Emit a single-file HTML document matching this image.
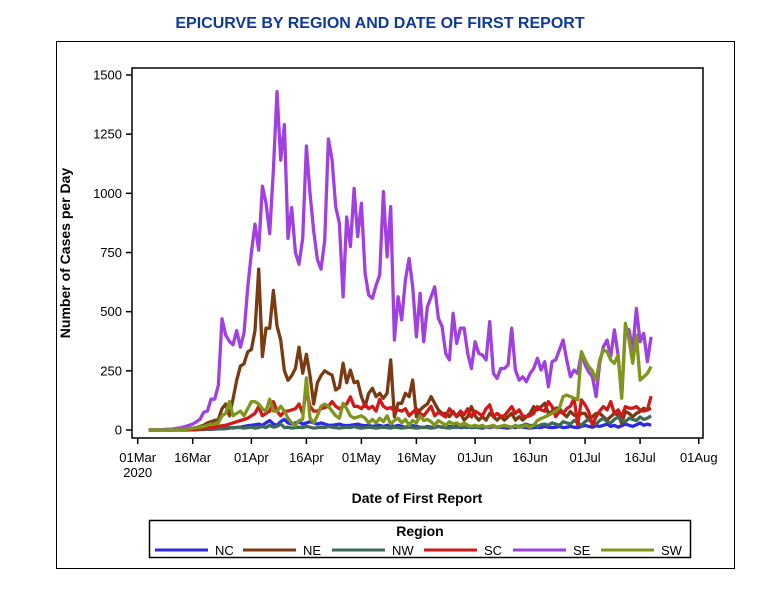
<!DOCTYPE html>
<html><head><meta charset="utf-8"><style>
body{margin:0;background:#fff;}
svg text{font-family:"Liberation Sans",Arial,sans-serif;}
</style></head><body>
<svg id="chart" width="761" height="603" xmlns="http://www.w3.org/2000/svg">
<rect x="0" y="0" width="761" height="603" fill="#fff"/>
<rect x="56.5" y="41.5" width="678" height="527" fill="#fff" stroke="#000" stroke-width="1"/>
<text x="380" y="28" text-anchor="middle" font-size="16" font-weight="bold" fill="#0f3a9a">EPICURVE BY REGION AND DATE OF FIRST REPORT</text>
<g id="plot"></g>
<rect x="132" y="68" width="571" height="370" fill="none" stroke="#000" stroke-width="1.5"/>
<text transform="translate(70,253) rotate(-90)" text-anchor="middle" font-size="14" font-weight="bold">Number of Cases per Day</text>
<text x="417" y="503" text-anchor="middle" font-size="14" font-weight="bold">Date of First Report</text>
<g>
<rect x="149.5" y="520.5" width="541" height="37" fill="#fff" stroke="#000" stroke-width="1.5"/>
<text x="420" y="536" text-anchor="middle" font-size="14" font-weight="bold">Region</text>
<g id="legend-items"></g>
</g>
</svg>
<script>
const startDay = 3;
const seriesNames = ["NC","NE","NW","SC","SE","SW"];
const seriesColors = ["#2a2ae8","#7a3a12","#3f6b56","#d01a1a","#a040e0","#7f961c"];
const yTicks = [0,250,500,750,1000,1250,1500];
const xTickLabels = ["01Mar","16Mar","01Apr","16Apr","01May","16May","01Jun","16Jun","01Jul","16Jul","01Aug"];
const xTickDays = [0,15,31,46,61,76,92,107,122,137,153];
const NC = [0,0,0,0,0,0,0,0,0,0,0,0,1,1,2,2,3,3,4,5,5,6,8,10,10,12,15,18,20,22,25,20,30,40,25,20,35,45,30,25,30,35,25,30,35,30,25,30,25,20,20,22,25,20,18,20,22,25,20,18,20,15,18,20,15,20,18,15,20,15,12,15,18,15,12,10,15,12,10,15,12,10,15,12,15,10,12,15,10,12,10,8,12,10,15,10,12,10,8,12,10,15,12,10,8,10,12,10,15,12,10,12,15,10,12,15,12,10,15,20,15,12,18,15,20,25,15,20,12,18,25,20,15,22,30,20,25,20];
const NE = [0,0,0,0,0,0,0,2,3,4,5,6,8,10,15,20,30,35,40,45,90,110,60,130,210,270,280,330,340,420,680,310,430,430,590,440,380,250,210,230,260,350,240,320,230,110,200,230,250,240,232,169,180,282,200,253,200,205,141,99,155,176,141,155,134,155,296,56,113,113,155,141,211,56,85,99,110,141,113,85,70,70,56,78,56,70,42,56,99,60,42,56,42,70,56,42,56,42,56,70,42,56,42,56,70,99,85,99,113,70,78,92,92,70,56,78,63,56,70,70,42,56,70,70,56,42,56,70,63,28,78,70,56,70,78,92,85,92];
const NW = [0,0,0,0,0,0,0,0,0,0,0,1,1,2,2,3,3,4,5,5,6,8,10,8,12,10,8,10,12,8,10,15,10,20,12,15,25,10,12,8,10,12,10,15,12,8,10,12,10,15,12,10,8,10,12,10,15,10,8,10,12,10,8,10,12,10,8,12,10,8,10,12,10,8,10,12,10,8,10,15,12,10,8,12,10,15,12,10,15,12,10,15,12,15,18,12,15,20,15,12,18,15,20,25,18,20,15,22,25,20,30,25,20,35,30,25,40,30,20,35,45,30,25,40,50,35,30,45,55,40,35,50,45,40,55,45,50,60];
const SC = [0,0,0,0,0,0,0,0,0,1,2,2,3,3,5,5,8,10,12,15,18,20,25,30,35,40,45,50,60,70,100,60,70,80,120,80,60,80,80,85,90,110,70,170,100,80,80,90,95,100,120,100,90,100,110,140,100,100,90,110,90,100,80,130,100,90,95,80,85,80,90,60,75,90,70,60,80,100,60,75,65,55,90,70,60,80,65,90,55,80,70,60,90,106,56,70,58,60,80,99,70,85,60,56,60,70,99,85,80,120,99,56,78,70,90,100,134,21,127,106,78,21,56,80,99,85,120,70,85,56,99,92,92,99,85,80,85,143];
const SE = [0,0,0,1,2,3,3,5,8,10,15,20,25,35,45,75,80,130,130,190,470,400,375,360,420,350,410,600,750,870,760,1030,960,830,1100,1430,1140,1290,810,940,750,700,810,1200,1000,840,720,680,800,1230,1140,944,873,563,900,775,1021,817,958,662,570,556,612,655,1007,732,944,380,563,465,634,725,605,394,577,373,521,563,605,472,437,324,296,493,366,430,430,324,260,373,324,317,296,458,239,218,260,260,275,430,253,211,225,204,239,260,303,253,289,183,289,296,338,380,296,225,253,239,324,275,246,225,141,282,352,380,310,423,317,141,430,423,338,514,373,408,289,394];
const SW = [0,0,0,0,0,0,0,0,0,2,3,5,8,10,12,15,20,25,25,30,60,70,120,60,70,80,60,90,120,120,110,90,80,130,80,80,100,80,50,30,20,40,45,220,50,30,60,100,110,100,80,60,50,113,90,60,50,55,60,50,30,45,30,50,35,60,25,40,50,30,45,20,40,30,60,40,45,35,20,40,30,20,35,25,30,20,30,20,15,20,15,20,10,15,20,10,15,20,15,10,20,10,15,20,10,20,40,49,55,63,70,80,92,141,148,141,134,127,331,296,268,250,211,296,338,331,296,282,317,134,451,380,282,401,211,225,239,268];
const seriesData = [NC,NE,NW,SC,SE,SW];

const NS = "http://www.w3.org/2000/svg";
const X0 = 137.7, PXD = 3.667, Y0 = 430, PXV = 355/1500;
function xScale(d){ return X0 + d*PXD; }
function yScale(v){ return Y0 - v*PXV; }
const plot = document.getElementById('plot');

yTicks.forEach(function(t){
  const y = yScale(t);
  const ln = document.createElementNS(NS,'line');
  ln.setAttribute('x1',126); ln.setAttribute('x2',132);
  ln.setAttribute('y1',y); ln.setAttribute('y2',y);
  ln.setAttribute('stroke','#000'); ln.setAttribute('stroke-width','1.5');
  
  
  plot.appendChild(ln);
  const tx = document.createElementNS(NS,'text');
  tx.setAttribute('x',122); tx.setAttribute('y',y+4.5);
  tx.setAttribute('text-anchor','end'); tx.setAttribute('font-size','13');
  tx.textContent = t;
  
  
  plot.appendChild(tx);
});
xTickDays.forEach(function(d,i){
  const x = xScale(d);
  const ln = document.createElementNS(NS,'line');
  ln.setAttribute('x1',x); ln.setAttribute('x2',x);
  ln.setAttribute('y1',438); ln.setAttribute('y2',444);
  ln.setAttribute('stroke','#000'); ln.setAttribute('stroke-width','1.5');
  
  
  plot.appendChild(ln);
  const tx = document.createElementNS(NS,'text');
  tx.setAttribute('x',x); tx.setAttribute('y',462);
  tx.setAttribute('text-anchor','middle'); tx.setAttribute('font-size','13');
  tx.textContent = xTickLabels[i];
  
  
  plot.appendChild(tx);
});
const yr = document.createElementNS(NS,'text');
yr.setAttribute('x',xScale(0)); yr.setAttribute('y',477);
yr.setAttribute('text-anchor','middle'); yr.setAttribute('font-size','13');
yr.textContent = '2020';


plot.appendChild(yr);

seriesData.forEach(function(arr,si){
  const pts = arr.map(function(v,i){ return xScale(startDay+i).toFixed(1)+','+yScale(v).toFixed(1); }).join(' ');
  const pl = document.createElementNS(NS,'polyline');
  pl.setAttribute('points',pts);
  pl.setAttribute('fill','none');
  pl.setAttribute('stroke',seriesColors[si]);
  pl.setAttribute('stroke-width','3.3');
  pl.setAttribute('stroke-linejoin','round');
  
  
  plot.appendChild(pl);
});

const legendItems = document.getElementById('legend-items');
const legX = [155,243,332,424,513,601];
seriesNames.forEach(function(n,i){
  const g = document.createElementNS(NS,'g');
  
  
  const ln = document.createElementNS(NS,'line');
  ln.setAttribute('x1',legX[i]); ln.setAttribute('x2',legX[i]+53);
  ln.setAttribute('y1',550); ln.setAttribute('y2',550);
  ln.setAttribute('stroke',seriesColors[i]); ln.setAttribute('stroke-width','3');
  g.appendChild(ln);
  const tx = document.createElementNS(NS,'text');
  tx.setAttribute('x',legX[i]+60); tx.setAttribute('y',555);
  tx.setAttribute('font-size','13');
  tx.textContent = n;
  g.appendChild(tx);
  legendItems.appendChild(g);
});
</script>
</body></html>
